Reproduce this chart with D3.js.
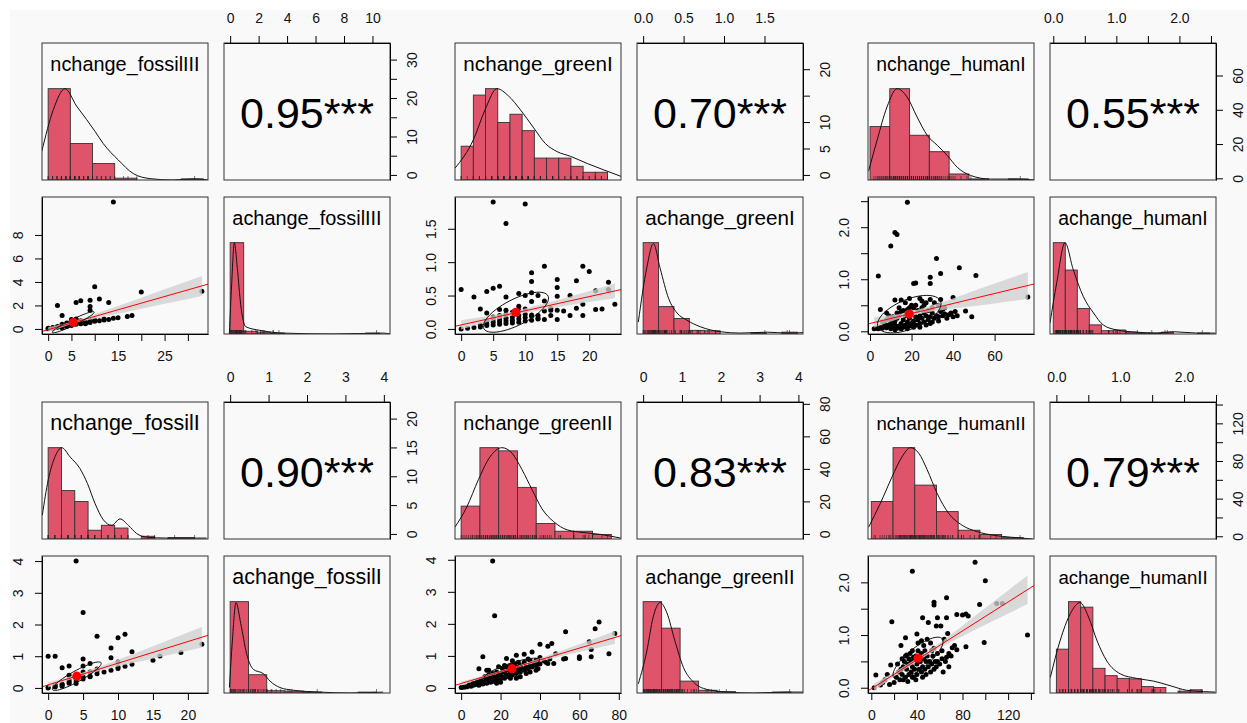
<!DOCTYPE html>
<html lang="en">
<head>
<meta charset="UTF-8">
<script src="https://cdn.jsdelivr.net/npm/d3@7"></script>
<style>
body { margin: 0; background: #fff; }
svg { display: block; font-family: "Liberation Sans", Arial, Helvetica, sans-serif; }
.axis path, .axis line { stroke: #000; stroke-width: 1px; fill: none; }
.axis text { font-family: "Liberation Sans", Arial, sans-serif; font-size: 14px; fill: #111; }
.box { fill: none; stroke: #333; stroke-width: 1px; }
.bar { fill: #DF536B; stroke: #333; stroke-width: 0.9px; }
.dens { fill: none; stroke: #111; stroke-width: 1px; }
.rug { stroke: #222; stroke-width: 0.6px; }
.pt { fill: #000; }
.band { fill: #cfcfcf; fill-opacity: 0.78; }
.fit { stroke: #f00; stroke-width: 1px; }
.ell { fill: none; stroke: #111; stroke-width: 1px; }
.mean { fill: #f00; }
.varname { fill: #000; }
.corr { font-size: 43px; fill: #000; }
</style>
</head>
<body>
<div id="chart"></div>
<script>
// ---------- data ----------
const groupNames = ["fossilIII", "greenI", "humanI", "fossilII", "greenII", "humanII"];
const nLabels = ["nchange_fossilIII", "nchange_greenI", "nchange_humanI", "nchange_fossilI", "nchange_greenII", "nchange_humanII"];
const aLabels = ["achange_fossilIII", "achange_greenI", "achange_humanI", "achange_fossilI", "achange_greenII", "achange_humanII"];
const corrText = ["0.95***", "0.70***", "0.55***", "0.90***", "0.83***", "0.79***"];
const corrR = [0.95, 0.70, 0.55, 0.90, 0.83, 0.79];

// plotting ranges of the two variables in each group
const nDomains = [[-1.32, 34.32], [-0.96, 24.96], [-0.97, 78.97], [-0.88, 22.88], [-3.12, 81.12], [-2.9, 142.7]];
const aDomains = [[-0.432, 11.232], [-0.076, 1.976], [-0.052, 2.58], [-0.16, 4.16], [-0.158, 4.118], [-0.1, 2.5]];

// axis ticks and labels
const nTicks = [[0, 5, 10, 15, 20, 25, 30], [0, 5, 10, 15, 20], [0, 20, 40, 60], [0, 5, 10, 15, 20], [0, 20, 40, 60, 80], [0, 20, 40, 60, 80, 100, 120, 140]];
const nBottomLabels = [["0", "5", "", "15", "", "25", ""], ["0", "5", "10", "15", "20"], ["0", "20", "40", "60"], ["0", "5", "10", "15", "20"], ["0", "20", "40", "60", "80"], ["0", "", "40", "", "80", "", "120", ""]];
const nRightLabels = [["0", "", "10", "", "20", "", "30"], ["0", "5", "10", "", "20"], ["0", "20", "40", "60"], ["0", "5", "10", "15", "20"], ["0", "20", "40", "60", "80"], ["0", "", "40", "", "80", "", "120", ""]];
const aTopTicks = [[0, 2, 4, 6, 8, 10], [0, 0.5, 1, 1.5], [0, 0.5, 1, 1.5, 2, 2.5], [0, 1, 2, 3, 4], [0, 1, 2, 3, 4], [0, 0.5, 1, 1.5, 2, 2.5]];
const aTopLabels = [["0", "2", "4", "6", "8", "10"], ["0.0", "0.5", "1.0", "1.5"], ["0.0", "", "1.0", "", "2.0", ""], ["0", "1", "2", "3", "4"], ["0", "1", "2", "3", "4"], ["0.0", "", "1.0", "", "2.0", ""]];
const aLeftTicks = [[0, 2, 4, 6, 8], [0, 0.5, 1, 1.5], [0, 0.5, 1, 1.5, 2, 2.5], [0, 1, 2, 3, 4], [0, 1, 2, 3, 4], [0, 0.5, 1, 1.5, 2]];
const aLeftLabels = [["0", "2", "4", "6", "8"], ["0.0", "0.5", "1.0", "1.5"], ["0.0", "", "1.0", "", "2.0", ""], ["0", "1", "2", "3", "4"], ["0", "1", "2", "3", "4"], ["0.0", "", "1.0", "", "2.0"]];

// histograms: breaks and bar heights relative to the tallest bar
const nHistBreaks = [
  [0, 5, 10, 15, 20, 25, 30, 35],
  [0, 2, 4, 6, 8, 10, 12, 14, 16, 18, 20, 22, 24],
  [0, 10, 20, 30, 40, 50, 60, 70, 80],
  [0, 2, 4, 6, 8, 10, 12, 14, 16, 18, 20, 22],
  [0, 10, 20, 30, 40, 50, 60, 70, 80],
  [0, 20, 40, 60, 80, 100, 120, 140]
];
const nHistHeights = [
  [1.0, 0.40, 0.18, 0.02, 0, 0, 0.012],
  [0.37, 0.93, 1.0, 0.63, 0.72, 0.54, 0.24, 0.24, 0.24, 0.15, 0.085, 0.085],
  [0.585, 1.0, 0.49, 0.31, 0.066, 0.012, 0, 0.012],
  [1.0, 0.53, 0.41, 0.096, 0.15, 0.12, 0, 0.03, 0, 0.015, 0.015],
  [0.36, 1.0, 0.965, 0.565, 0.17, 0.085, 0.085, 0.05],
  [0.41, 1.0, 0.59, 0.30, 0.096, 0.05, 0.015]
];
const aHistBreaks = [
  [0, 1, 2, 3, 4, 5, 6, 7, 8, 9, 10, 11],
  [0, 0.2, 0.4, 0.6, 0.8, 1.0, 1.2, 1.4, 1.6, 1.8, 2.0],
  [0, 0.2, 0.4, 0.6, 0.8, 1.0, 1.2, 1.4, 1.6, 1.8, 2.0, 2.2, 2.4, 2.6],
  [0, 0.5, 1, 1.5, 2, 2.5, 3, 3.5, 4],
  [0, 0.5, 1, 1.5, 2, 2.5, 3, 3.5, 4],
  [0, 0.2, 0.4, 0.6, 0.8, 1.0, 1.2, 1.4, 1.6, 1.8, 2.0, 2.2, 2.4]
];
const aHistHeights = [
  [1.0, 0.03, 0.02, 0.01, 0, 0, 0, 0, 0, 0, 0.01],
  [1.0, 0.30, 0.17, 0.04, 0.035, 0, 0, 0.012, 0, 0.02],
  [1.0, 0.70, 0.28, 0.10, 0.036, 0.044, 0.02, 0.01, 0.01, 0.02, 0, 0, 0.01],
  [1.0, 0.20, 0.025, 0.02, 0.01, 0, 0, 0.01],
  [1.0, 0.71, 0.13, 0.03, 0.015, 0, 0, 0.01],
  [0.48, 1.0, 0.94, 0.27, 0.19, 0.16, 0.155, 0.07, 0.06, 0, 0.02, 0.035]
];

// density curves [value, relative height]
const nDensity = [
  [[-1.45, 0.31], [1.17, 0.77], [3.8, 1.0], [6.4, 0.81], [8.7, 0.66], [10.6, 0.53], [12.4, 0.40], [15.8, 0.22], [19.2, 0.07], [23, 0.015], [28, 0.0], [33, 0.012], [36, 0]],
  [[-1.0, 0.13], [2.0, 0.44], [3.93, 0.77], [5.86, 1.0], [7.77, 0.92], [9.7, 0.77], [11.9, 0.57], [13.8, 0.40], [15.75, 0.31], [17.9, 0.26], [20.7, 0.18], [23.4, 0.11], [26.2, 0.04]],
  [[-0.7, 0.10], [3.5, 0.43], [8.6, 0.80], [13.7, 1.0], [18.7, 0.91], [23.8, 0.69], [28.9, 0.49], [34, 0.38], [39, 0.27], [44.1, 0.14], [50.8, 0.05], [61, 0.01], [74.5, 0.01], [82.9, 0]],
  [[-0.88, 0.26], [0.02, 0.65], [1.03, 0.90], [2.04, 1.0], [3.28, 0.90], [4.79, 0.77], [5.89, 0.61], [7.04, 0.39], [8.3, 0.21], [9.55, 0.15], [10.8, 0.22], [12.05, 0.15], [13.3, 0.06], [14.8, 0.02], [17.8, 0.01], [20.8, 0.01], [23.8, 0.01]],
  [[-3.3, 0.13], [3.0, 0.35], [9.2, 0.65], [15.4, 0.90], [21.7, 1.0], [27.1, 0.94], [32.4, 0.76], [37.8, 0.54], [43.1, 0.33], [49.3, 0.19], [56.5, 0.10], [65.4, 0.07], [74.3, 0.05], [85, 0.01]],
  [[-2.5, 0.13], [8.3, 0.39], [19.1, 0.68], [28.3, 0.90], [36, 1.0], [43.7, 0.94], [51.4, 0.76], [60.6, 0.50], [71.3, 0.28], [83.7, 0.15], [97.6, 0.08], [112.9, 0.04], [128.3, 0.02], [148.3, 0]]
];
const aDensity = [
  [[-0.06, 0.0], [0.11, 0.54], [0.31, 1.0], [0.53, 0.72], [0.78, 0.32], [1.15, 0.08], [2.2, 0.04], [3.9, 0.01], [7.6, 0], [11.3, 0.01], [11.8, 0]],
  [[-0.063, 0.13], [0.046, 0.72], [0.133, 0.99], [0.22, 0.72], [0.33, 0.39], [0.44, 0.23], [0.57, 0.15], [0.74, 0.08], [1.0, 0.025], [1.26, 0.01], [1.61, 0.02], [1.87, 0.01], [2.08, 0.015]],
  [[-0.055, 0.12], [0.057, 0.56], [0.195, 1.0], [0.33, 0.71], [0.5, 0.41], [0.67, 0.23], [0.83, 0.10], [1.06, 0.044], [1.39, 0.02], [1.72, 0.01], [2.0, 0.025], [2.39, 0.01], [2.7, 0.01]],
  [[-0.02, 0.06], [0.06, 0.57], [0.16, 0.99], [0.29, 0.76], [0.45, 0.43], [0.63, 0.26], [0.91, 0.21], [1.09, 0.13], [1.36, 0.06], [1.73, 0.03], [2.45, 0.01], [3.27, 0], [4.18, 0.01]],
  [[-0.13, 0.10], [0.10, 0.46], [0.27, 0.83], [0.46, 0.99], [0.64, 0.88], [0.86, 0.57], [1.09, 0.28], [1.36, 0.12], [1.72, 0.04], [2.26, 0.01], [2.98, 0], [3.88, 0.01], [4.32, 0.01]],
  [[-0.1, 0.17], [0.06, 0.57], [0.23, 0.87], [0.39, 0.99], [0.53, 0.83], [0.67, 0.57], [0.83, 0.35], [1.05, 0.21], [1.32, 0.16], [1.6, 0.13], [1.87, 0.08], [2.14, 0.03], [2.42, 0.015], [2.61, 0.01]]
];

// scatter points [nchange, achange]
const fossilIIIPoints = [[0, 0.02], [0, 0.05], [1, 0.08], [1, 0.12], [2, 0.15], [2, 0.2], [3, 0.1], [3, 0.25], [3, 0.3], [4, 0.2], [4, 0.35], [4, 0.4], [5, 0.3], [5, 0.45], [5, 0.55], [5, 0.7], [6, 0.4], [6, 0.5], [6, 0.65], [6, 0.85], [7, 0.45], [7, 0.55], [8, 0.5], [8, 0.6], [9, 0.55], [9, 0.7], [10, 0.65], [10, 0.75], [11, 0.7], [12, 0.75], [12, 0.85], [13, 0.8], [14, 0.9], [15, 0.95], [2, 2.0], [3, 1.15], [6, 2.25], [7, 2.4], [9, 2.45], [9, 1.9], [9, 1.6], [10, 3.6], [11, 2.55], [13, 2.25], [14, 10.8], [17, 1.05], [18, 1.15], [20, 3.15], [33, 3.2], [5, 0.8], [6, 0.75], [4, 0.5], [3, 0.4], [8, 0.45], [7, 0.7]];
const greenIPoints = [[5, 1.9], [10, 1.87], [7, 1.58], [13, 0.94], [19, 0.94], [20, 0.86], [11, 0.84], [11, 0.71], [15, 0.74], [18, 0.72], [23, 0.70], [0, 0.59], [2, 0.48], [4, 0.56], [5, 0.61], [6, 0.64], [7, 0.48], [9, 0.53], [10, 0.5], [11, 0.54], [12, 0.5], [15, 0.62], [15, 0.49], [17, 0.5], [3, 0.3], [13, 0.42], [11, 0.41], [9, 0.34], [14, 0.31], [18, 0.31], [16, 0.27], [15, 0.14], [17, 0.2], [13, 0.14], [12, 0.16], [8, 0.25], [11, 0.21], [4, 0.24], [6, 0.29], [21, 0.57], [23, 0.59], [0, 0.0], [1, 0.01], [2, 0.02], [3, 0.03], [3, 0.06], [4, 0.05], [4, 0.08], [4, 0.12], [5, 0.06], [5, 0.1], [5, 0.14], [5, 0.18], [6, 0.07], [6, 0.11], [6, 0.15], [6, 0.2], [7, 0.08], [7, 0.12], [7, 0.16], [7, 0.22], [7, 0.28], [8, 0.09], [8, 0.13], [8, 0.18], [9, 0.1], [9, 0.15], [9, 0.2], [9, 0.28], [10, 0.12], [10, 0.17], [10, 0.22], [10, 0.3], [11, 0.13], [11, 0.19], [12, 0.15], [12, 0.2], [13, 0.27], [14, 0.2], [14, 0.28], [15, 0.28], [19, 0.2], [19, 0.37], [21, 0.29], [22, 0.3], [24, 0.37]];
const humanIPoints = [[18, 2.48], [12, 1.9], [13, 1.86], [10, 1.64], [4, 1.06], [32, 1.4], [43, 1.22], [34, 1.11], [51, 1.07], [29, 1.04], [29, 0.92], [21, 0.92], [22, 0.93], [76, 0.66], [5, 0.42], [46, 0.39], [49, 0.28], [40, 0.28], [40, 0.65], [34, 0.61], [29, 0.61], [24, 0.63], [19, 0.63], [15, 0.6], [12, 0.6], [8, 0.35], [41, 0.38], [36, 0.45], [33, 0.5], [27, 0.55], [25, 0.58], [31, 0.55], [2, 0.05], [3, 0.06], [4, 0.05], [5, 0.08], [6, 0.06], [7, 0.1], [8, 0.07], [9, 0.12], [10, 0.05], [10, 0.15], [11, 0.09], [12, 0.2], [12, 0.12], [13, 0.06], [13, 0.25], [14, 0.1], [14, 0.3], [15, 0.15], [15, 0.38], [16, 0.08], [16, 0.22], [17, 0.12], [17, 0.3], [18, 0.18], [18, 0.42], [19, 0.1], [19, 0.25], [20, 0.15], [20, 0.35], [21, 0.2], [21, 0.45], [22, 0.12], [22, 0.28], [23, 0.22], [23, 0.4], [24, 0.15], [24, 0.3], [25, 0.25], [25, 0.45], [26, 0.18], [26, 0.35], [27, 0.3], [28, 0.22], [28, 0.4], [29, 0.15], [29, 0.28], [30, 0.35], [31, 0.25], [32, 0.3], [33, 0.2], [34, 0.38], [35, 0.3], [36, 0.33], [37, 0.25], [38, 0.32], [39, 0.35], [42, 0.3], [6, 0.18], [8, 0.22], [9, 0.3], [11, 0.28], [7, 0.15], [10, 0.22], [13, 0.35], [16, 0.4], [19, 0.45], [20, 0.5], [22, 0.5], [17, 0.55], [14, 0.45], [26, 0.5], [30, 0.45], [35, 0.42], [24, 0.08], [18, 0.05], [12, 0.03], [15, 0.05], [21, 0.08], [27, 0.12], [30, 0.18], [33, 0.28]];
const fossilIIPoints = [[4, 4.0], [5, 2.38], [7, 1.63], [11, 1.69], [10, 1.58], [9, 1.26], [9, 0.95], [12, 1.14], [0, 1.0], [1, 1.0], [2, 0.64], [3, 0.69], [5, 0.91], [5, 0.69], [6, 0.77], [19, 1.12], [16, 1.01], [15, 0.87], [22, 1.38], [10, 0.66], [9, 0.56], [10, 0.61], [11, 0.68], [12, 0.75], [7, 0.45], [6, 0.37], [5, 0.35], [4, 0.3], [3, 0.4], [3, 0.19], [2, 0.12], [1, 0.06], [0, 0], [4, 0.14], [5, 0.5], [6, 0.35], [7, 0.6], [10, 0.82], [0, 0.02], [1, 0.03], [2, 0.1], [3, 0.15], [4, 0.22], [5, 0.28], [6, 0.5], [7, 0.55], [8, 0.5], [2, 0.05], [1, 0.1], [3, 0.25]];
const greenIIPoints = [[16, 3.96], [17, 2.25], [11, 0.97], [9, 0.6], [13, 0.55], [53, 1.75], [70, 2.06], [68, 1.85], [78, 1.7], [75, 1.07], [66, 0.97], [60, 0.97], [60, 0.92], [53, 0.92], [52, 0.9], [48, 1.07], [46, 1.39], [44, 1.3], [40, 1.36], [36, 1.12], [32, 1.05], [38, 0.86], [44, 0.76], [47, 0.76], [39, 0.6], [35, 0.86], [28, 1.02], [23, 0.92], [19, 0.66], [65, 1.44], [66, 1.2], [0, 0.01], [1, 0.02], [2, 0.03], [3, 0.04], [5, 0.05], [6, 0.08], [7, 0.1], [8, 0.12], [9, 0.08], [10, 0.15], [10, 0.25], [11, 0.12], [12, 0.2], [12, 0.35], [13, 0.15], [13, 0.28], [14, 0.22], [14, 0.4], [15, 0.18], [15, 0.3], [16, 0.25], [16, 0.45], [17, 0.2], [17, 0.35], [18, 0.3], [18, 0.5], [19, 0.22], [19, 0.4], [20, 0.28], [20, 0.45], [21, 0.35], [21, 0.6], [22, 0.3], [22, 0.5], [23, 0.4], [23, 0.65], [24, 0.35], [24, 0.55], [25, 0.45], [25, 0.7], [26, 0.4], [26, 0.6], [27, 0.5], [27, 0.75], [28, 0.45], [28, 0.65], [29, 0.55], [29, 0.8], [30, 0.5], [30, 0.7], [31, 0.6], [32, 0.55], [32, 0.8], [33, 0.65], [34, 0.6], [34, 0.9], [35, 0.7], [36, 0.65], [37, 0.75], [38, 0.7], [39, 0.8], [40, 0.75], [40, 0.95], [42, 0.85], [43, 0.8], [45, 0.9], [30, 0.35], [25, 0.3], [20, 0.18], [35, 0.5], [28, 0.3], [33, 0.45], [38, 0.55], [18, 0.15], [8, 0.2], [6, 0.15], [4, 0.1], [14, 0.55], [22, 0.7], [26, 0.85]];
const humanIIPoints = [[91, 2.38], [36, 2.21], [100, 2.03], [66, 1.71], [55, 1.62], [55, 1.57], [95, 1.58], [110, 1.6], [115, 1.6], [75, 1.39], [80, 1.38], [83, 1.4], [85, 1.36], [18, 1.25], [45, 1.33], [50, 1.24], [58, 1.33], [66, 1.33], [57, 1.17], [61, 1.17], [67, 1.03], [40, 1.02], [137, 1.0], [99, 0.86], [30, 0.95], [26, 0.8], [4, 0.24], [17, 0.43], [83, 0.78], [71, 0.76], [64, 0.92], [49, 0.92], [44, 0.89], [39, 0.15], [16, 0.06], [73, 0.8], [75, 0.72], [68, 0.65], [62, 0.7], [58, 0.5], [55, 0.75], [52, 0.85], [47, 0.7], [20, 0.1], [22, 0.2], [24, 0.3], [25, 0.15], [27, 0.25], [28, 0.4], [29, 0.5], [30, 0.2], [30, 0.6], [31, 0.35], [32, 0.45], [33, 0.55], [33, 0.25], [34, 0.65], [35, 0.3], [35, 0.5], [36, 0.4], [36, 0.7], [37, 0.2], [38, 0.55], [38, 0.35], [39, 0.6], [40, 0.45], [40, 0.25], [41, 0.7], [42, 0.35], [42, 0.55], [43, 0.5], [44, 0.3], [44, 0.65], [45, 0.4], [46, 0.55], [47, 0.35], [48, 0.5], [48, 0.25], [49, 0.6], [50, 0.4], [51, 0.5], [52, 0.3], [53, 0.45], [54, 0.6], [55, 0.35], [56, 0.5], [58, 0.65], [60, 0.45], [62, 0.55], [65, 0.5], [68, 0.4], [70, 0.6], [26, 0.35], [23, 0.45], [28, 0.15], [32, 0.12], [36, 0.2], [12, 0.15], [14, 0.25], [10, 0.1], [2.5, 0.0], [8, 0.05], [37, 0.58], [31, 0.62], [27, 0.55], [45, 0.2], [53, 0.7], [57, 0.4], [63, 0.3], [66, 0.58], [46, 0.8], [41, 0.85]];
const scatterPoints = [fossilIIIPoints, greenIPoints, humanIPoints, fossilIIPoints, greenIIPoints, humanIIPoints];

// means, sds (ellipse), linear fit and its confidence band
const meanN = [5.4, 8.55, 18.9, 4.1, 25.8, 41];
const meanA = [0.57, 0.25, 0.33, 0.37, 0.6, 0.56];
const sdN = [4.5, 5.1, 15.3, 3.5, 14, 22];
const sdA = [0.9, 0.3, 0.36, 0.45, 0.33, 0.4];
const fitIntercept = [-0.066, 0.06, 0.15, 0.096, 0.139, -0.02];
const fitSlope = [0.113, 0.0212, 0.0096, 0.0683, 0.0184, 0.01373];
const bandX = [[0, 5.4, 10, 15, 20, 25, 33], [0, 4, 8.5, 13, 18, 24], [2, 10, 19, 30, 45, 60, 76], [0, 4.1, 8, 12, 16, 22], [0, 10, 25.8, 40, 55, 78], [2.5, 20, 41, 60, 80, 100, 120, 137]];
const bandHalf = [[0.2, 0.1, 0.2, 0.33, 0.47, 0.62, 0.85], [0.07, 0.045, 0.03, 0.045, 0.07, 0.11], [0.1, 0.06, 0.04, 0.06, 0.12, 0.19, 0.26], [0.08, 0.05, 0.08, 0.14, 0.21, 0.32], [0.06, 0.04, 0.025, 0.05, 0.1, 0.2], [0.07, 0.04, 0.03, 0.05, 0.1, 0.16, 0.22, 0.27]];

// ---------- layout ----------
const W = 1247, H = 723;
const colLeft = [42, 455, 868], colGap = 182, panelW = 166, panelH = 137;
const blockTop = [43, 402], rowGap = 154;

const svg = d3.select("#chart").append("svg").attr("width", W).attr("height", H);
svg.append("rect").attr("x", 10).attr("y", 10).attr("width", W - 10).attr("height", H - 10).attr("fill", "#f9f9f9");
const defs = svg.append("defs");

const widen = d => [d[0] - Math.abs(0.05 * d[0]), d[1] + Math.abs(0.05 * d[1])];

function panel(id, x, y) {
  defs.append("clipPath").attr("id", id).append("rect")
    .attr("x", x).attr("y", y).attr("width", panelW).attr("height", panelH);
  return svg.append("g").attr("clip-path", `url(#${id})`);
}

function drawHist(g, xs, ys, breaks, heights, dens, rugVals) {
  g.selectAll(".bar").data(heights.map((h, k) => ({ x0: breaks[k], x1: breaks[k + 1], h })).filter(d => d.h > 0))
    .enter().append("rect").attr("class", "bar")
    .attr("x", d => xs(d.x0)).attr("width", d => xs(d.x1) - xs(d.x0))
    .attr("y", d => ys(d.h)).attr("height", d => ys(0) - ys(d.h));
  g.append("path").attr("class", "dens")
    .attr("d", d3.line().x(d => xs(d[0])).y(d => ys(d[1])).curve(d3.curveMonotoneX)(dens));
  g.selectAll(".rug").data(rugVals).enter().append("line").attr("class", "rug")
    .attr("x1", d => xs(d)).attr("x2", d => xs(d))
    .attr("y1", ys(0)).attr("y2", ys(0) - 4);
}

groupNames.forEach((name, i) => {
  const x1 = colLeft[i % 3], x2 = x1 + colGap;
  const y1 = blockTop[Math.floor(i / 3)], y2 = y1 + rowGap;

  const nX = d3.scaleLinear().domain(nDomains[i]).range([x1, x1 + panelW]);
  const nY = d3.scaleLinear().domain(nDomains[i]).range([y1 + panelH, y1]);
  const aX = d3.scaleLinear().domain(aDomains[i]).range([x2, x2 + panelW]);
  const aY = d3.scaleLinear().domain(aDomains[i]).range([y2 + panelH, y2]);
  const nHX = d3.scaleLinear().domain(widen(nDomains[i])).range([x1, x1 + panelW]);
  const aHX = d3.scaleLinear().domain(widen(aDomains[i])).range([x2, x2 + panelW]);
  const hY1 = d3.scaleLinear().domain([0, 1.5]).range([y1 + panelH, y1]);
  const hY2 = d3.scaleLinear().domain([0, 1.5]).range([y2 + panelH, y2]);
  const pts = scatterPoints[i];

  // diagonal histograms
  drawHist(panel(`h1-${i}`, x1, y1), nHX, hY1, nHistBreaks[i], nHistHeights[i], nDensity[i], pts.map(p => p[0]));
  drawHist(panel(`h2-${i}`, x2, y2), aHX, hY2, aHistBreaks[i], aHistHeights[i], aDensity[i], pts.map(p => p[1]));

  // scatter panel
  const sg = panel(`sc-${i}`, x1, y2);
  sg.selectAll(".pt").data(pts).enter().append("circle").attr("class", "pt")
    .attr("cx", d => nX(d[0])).attr("cy", d => aY(d[1])).attr("r", 2.5);
  const fit = v => fitIntercept[i] + fitSlope[i] * v;
  sg.append("path").attr("class", "band")
    .attr("d", d3.area().x(d => nX(d)).y0((d, k) => aY(fit(d) - bandHalf[i][k]))
      .y1((d, k) => aY(fit(d) + bandHalf[i][k])).curve(d3.curveMonotoneX)(bandX[i]));
  sg.append("line").attr("class", "fit")
    .attr("x1", nX(nDomains[i][0])).attr("y1", aY(fit(nDomains[i][0])))
    .attr("x2", nX(nDomains[i][1])).attr("y2", aY(fit(nDomains[i][1])));
  const th = 1 / Math.sqrt(2), ra = Math.sqrt(1 + corrR[i]), rb = Math.sqrt(1 - corrR[i]);
  const ell = d3.range(52).map(k => {
    const t = k * 2 * Math.PI / 51, c = Math.cos(t), s = Math.sin(t);
    return [meanN[i] + sdN[i] * th * (ra * c - rb * s), meanA[i] + sdA[i] * th * (ra * c + rb * s)];
  });
  sg.append("path").attr("class", "ell").attr("d", d3.line().x(d => nX(d[0])).y(d => aY(d[1]))(ell));
  sg.append("circle").attr("class", "mean").attr("cx", nX(meanN[i])).attr("cy", aY(meanA[i])).attr("r", 4.6);

  // panel boxes
  [[x1, y1], [x2, y1], [x1, y2], [x2, y2]].forEach(([px, py]) =>
    svg.append("rect").attr("class", "box").attr("x", px).attr("y", py).attr("width", panelW).attr("height", panelH));

  // correlation
  svg.append("text").attr("class", "corr")
    .attr("x", x2 + panelW / 2).attr("y", y1 + panelH / 2 + 1)
    .attr("text-anchor", "middle").attr("dominant-baseline", "central")
    .text(corrText[i]);

  // variable names, sized like pairs() does
  const t1 = svg.append("text").attr("class", "varname").attr("font-size", 20)
    .attr("x", x1 + panelW / 2).attr("y", y1 + 28).attr("text-anchor", "middle").text(nLabels[i]);
  const t2 = svg.append("text").attr("class", "varname").attr("font-size", 20)
    .attr("x", x2 + panelW / 2).attr("y", y2 + 27.5).attr("text-anchor", "middle").text(aLabels[i]);
  const wMax = Math.max(t1.node().getComputedTextLength(), t2.node().getComputedTextLength());
  const fs = Math.min(24, 20 * 0.9 * panelW / wMax);
  t1.attr("font-size", fs); t2.attr("font-size", fs);

  // axes
  const clean = g => g.attr("font-size", null).attr("font-family", null);
  svg.append("g").attr("class", "axis").attr("transform", `translate(0,${y1})`)
    .call(d3.axisTop(aX).tickValues(aTopTicks[i]).tickFormat((d, k) => aTopLabels[i][k])
      .tickSize(7).tickPadding(13).tickSizeOuter(0)).call(clean);
  svg.append("g").attr("class", "axis").attr("transform", `translate(0,${y2 + panelH})`)
    .call(d3.axisBottom(nX).tickValues(nTicks[i]).tickFormat((d, k) => nBottomLabels[i][k])
      .tickSize(7).tickPadding(10).tickSizeOuter(0)).call(clean);
  svg.append("g").attr("class", "axis").attr("transform", `translate(${x2 + panelW},0)`)
    .call(d3.axisRight(nY).tickValues(nTicks[i]).tickFormat((d, k) => nRightLabels[i][k])
      .tickSize(7).tickSizeOuter(0)).call(clean)
    .selectAll("text").attr("x", 0).attr("dy", null)
    .attr("transform", "translate(22,0) rotate(-90)").attr("text-anchor", "middle").attr("dominant-baseline", "central");
  svg.append("g").attr("class", "axis").attr("transform", `translate(${x1},0)`)
    .call(d3.axisLeft(aY).tickValues(aLeftTicks[i]).tickFormat((d, k) => aLeftLabels[i][k])
      .tickSize(7).tickSizeOuter(0)).call(clean)
    .selectAll("text").attr("x", 0).attr("dy", null)
    .attr("transform", "translate(-24,0) rotate(-90)").attr("text-anchor", "middle").attr("dominant-baseline", "central");
});
</script>
</body>
</html>
